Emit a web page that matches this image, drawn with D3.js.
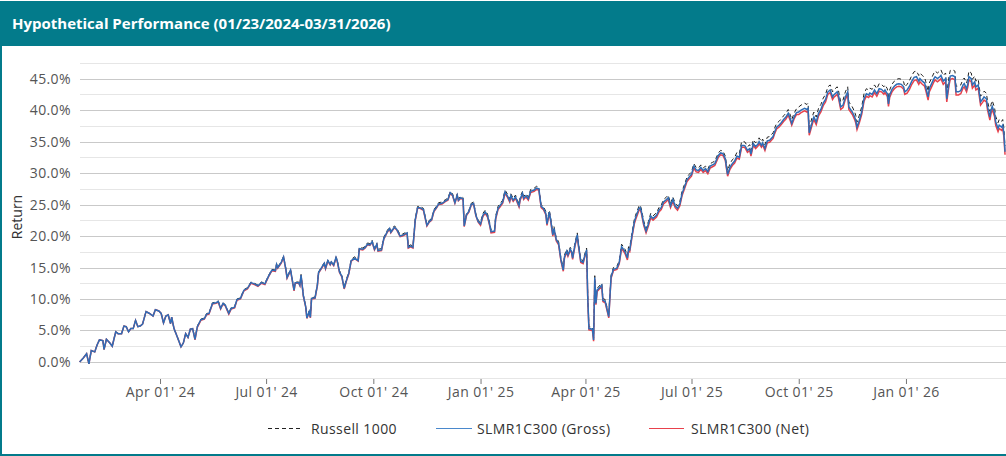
<!DOCTYPE html>
<html>
<head>
<meta charset="utf-8">
<script src="https://cdn.jsdelivr.net/npm/d3@7"></script>
<style>
  body { margin: 0; background: #fff; }
  svg { display: block; font-family: 'Open Sans', 'Noto Sans', sans-serif; }
</style>
</head>
<body>
<script>
// chart data (cumulative return, %)
const title = 'Hypothetical Performance (01/23/2024-03/31/2026)';
const seriesNames = ['Russell 1000', 'SLMR1C300 (Gross)', 'SLMR1C300 (Net)'];
const yTicks = [0, 5, 10, 15, 20, 25, 30, 35, 40, 45];

const dates = [
  '2024-01-23','2024-01-26','2024-01-29','2024-01-31',
  '2024-02-02','2024-02-05','2024-02-07','2024-02-09','2024-02-12','2024-02-13','2024-02-15','2024-02-18','2024-02-20','2024-02-23','2024-02-25','2024-02-28',
  '2024-03-01','2024-03-03','2024-03-05','2024-03-07','2024-03-09','2024-03-11','2024-03-13','2024-03-15','2024-03-17','2024-03-20','2024-03-23','2024-03-26','2024-03-28','2024-03-31',
  '2024-04-02','2024-04-04','2024-04-06','2024-04-08','2024-04-10','2024-04-11','2024-04-13','2024-04-16','2024-04-19','2024-04-21','2024-04-23','2024-04-25','2024-04-27','2024-04-29',
  '2024-05-01','2024-05-03','2024-05-06','2024-05-09','2024-05-11','2024-05-13','2024-05-16','2024-05-19','2024-05-21','2024-05-23','2024-05-25','2024-05-27','2024-05-30',
  '2024-06-01','2024-06-04','2024-06-06','2024-06-09','2024-06-12','2024-06-15','2024-06-18','2024-06-21','2024-06-24','2024-06-27','2024-06-30',
  '2024-07-03','2024-07-06','2024-07-09','2024-07-10','2024-07-11','2024-07-14','2024-07-16','2024-07-18','2024-07-19','2024-07-22','2024-07-25','2024-07-26','2024-07-29','2024-07-30','2024-07-31',
  '2024-08-02','2024-08-04','2024-08-05','2024-08-07','2024-08-08','2024-08-09','2024-08-12','2024-08-14','2024-08-15','2024-08-18','2024-08-20','2024-08-21','2024-08-23','2024-08-25','2024-08-26','2024-08-28','2024-08-30','2024-08-31',
  '2024-09-02','2024-09-04','2024-09-06','2024-09-08','2024-09-10','2024-09-12','2024-09-15','2024-09-18','2024-09-19','2024-09-22','2024-09-24','2024-09-26','2024-09-28','2024-09-30',
  '2024-10-02','2024-10-04','2024-10-05','2024-10-08','2024-10-10','2024-10-13','2024-10-15','2024-10-16','2024-10-19','2024-10-21','2024-10-24','2024-10-26','2024-10-30','2024-10-31',
  '2024-11-02','2024-11-04','2024-11-06','2024-11-08','2024-11-10','2024-11-13','2024-11-16','2024-11-18','2024-11-20','2024-11-22','2024-11-24','2024-11-26','2024-11-29',
  '2024-12-02','2024-12-04','2024-12-06','2024-12-08','2024-12-10','2024-12-12','2024-12-13','2024-12-15','2024-12-17','2024-12-18','2024-12-20','2024-12-22','2024-12-24','2024-12-26','2024-12-28','2024-12-30',
  '2025-01-01','2025-01-03','2025-01-05','2025-01-07','2025-01-09','2025-01-10','2025-01-13','2025-01-14','2025-01-16','2025-01-18','2025-01-20','2025-01-22','2025-01-24','2025-01-26','2025-01-27','2025-01-29','2025-01-31',
  '2025-02-03','2025-02-04','2025-02-06','2025-02-07','2025-02-09','2025-02-11','2025-02-13','2025-02-16','2025-02-18','2025-02-20','2025-02-22','2025-02-24','2025-02-26','2025-02-27',
  '2025-03-01','2025-03-02','2025-03-04','2025-03-05','2025-03-07','2025-03-09','2025-03-11','2025-03-13','2025-03-14','2025-03-16','2025-03-17','2025-03-19','2025-03-20','2025-03-21','2025-03-23','2025-03-25','2025-03-26','2025-03-28','2025-03-30','2025-03-31',
  '2025-04-02','2025-04-03','2025-04-04','2025-04-07','2025-04-08','2025-04-09','2025-04-10','2025-04-11','2025-04-15','2025-04-16','2025-04-18','2025-04-21','2025-04-22','2025-04-23','2025-04-25','2025-04-28','2025-04-30',
  '2025-05-02','2025-05-04','2025-05-05','2025-05-07','2025-05-08','2025-05-09','2025-05-11','2025-05-13','2025-05-14','2025-05-17','2025-05-18','2025-05-19','2025-05-21','2025-05-23','2025-05-25','2025-05-27','2025-05-29',
  '2025-06-01','2025-06-03','2025-06-05','2025-06-07','2025-06-09','2025-06-11','2025-06-13','2025-06-15','2025-06-17','2025-06-19','2025-06-21','2025-06-23','2025-06-25','2025-06-27','2025-06-29',
  '2025-07-01','2025-07-03','2025-07-05','2025-07-07','2025-07-09','2025-07-11','2025-07-13','2025-07-15','2025-07-17','2025-07-19','2025-07-21','2025-07-24','2025-07-26','2025-07-28','2025-07-30','2025-07-31',
  '2025-08-01','2025-08-03','2025-08-05','2025-08-07','2025-08-09','2025-08-11','2025-08-13','2025-08-15','2025-08-16','2025-08-18','2025-08-20','2025-08-21','2025-08-23','2025-08-25','2025-08-27','2025-08-28','2025-08-30','2025-08-31',
  '2025-09-02','2025-09-04','2025-09-06','2025-09-09','2025-09-10','2025-09-12','2025-09-14','2025-09-16','2025-09-18','2025-09-20','2025-09-22','2025-09-24','2025-09-25','2025-09-27','2025-09-29',
  '2025-10-01','2025-10-03','2025-10-06','2025-10-08','2025-10-09','2025-10-10','2025-10-13','2025-10-14','2025-10-16','2025-10-18','2025-10-20','2025-10-22','2025-10-24','2025-10-26','2025-10-28','2025-10-30','2025-10-31',
  '2025-11-03','2025-11-04','2025-11-06','2025-11-08','2025-11-10','2025-11-12','2025-11-13','2025-11-16','2025-11-18','2025-11-19','2025-11-20','2025-11-22','2025-11-24','2025-11-26','2025-11-28','2025-11-30',
  '2025-12-01','2025-12-03','2025-12-05','2025-12-07','2025-12-09','2025-12-11','2025-12-13','2025-12-14','2025-12-16','2025-12-17','2025-12-18','2025-12-20','2025-12-22','2025-12-24','2025-12-26','2025-12-28','2025-12-30','2025-12-31',
  '2026-01-02','2026-01-04','2026-01-06','2026-01-08','2026-01-10','2026-01-12','2026-01-13','2026-01-15','2026-01-17','2026-01-18','2026-01-20','2026-01-21','2026-01-23','2026-01-25','2026-01-26','2026-01-28','2026-01-30','2026-01-31',
  '2026-02-02','2026-02-04','2026-02-05','2026-02-07','2026-02-08','2026-02-10','2026-02-12','2026-02-13','2026-02-15','2026-02-17','2026-02-19','2026-02-20','2026-02-22','2026-02-23','2026-02-24','2026-02-26','2026-02-27',
  '2026-03-01','2026-03-02','2026-03-04','2026-03-05','2026-03-06','2026-03-08','2026-03-09','2026-03-11','2026-03-12','2026-03-14','2026-03-15','2026-03-16','2026-03-18','2026-03-19','2026-03-21','2026-03-22','2026-03-24','2026-03-25','2026-03-26','2026-03-27'
];

const gross = [
  0.0,0.6,1.3,-0.3,
  1.8,1.6,2.7,3.5,3.4,2.0,3.6,3.0,2.5,4.8,4.5,4.5,
  5.7,5.6,4.8,5.3,5.3,6.6,5.6,5.7,6.0,8.0,7.7,7.3,8.3,8.1,
  7.7,6.2,7.3,7.5,6.1,7.1,5.3,3.9,2.4,3.0,4.5,3.9,5.2,5.3,
  3.6,5.6,6.7,6.9,7.6,7.7,9.3,9.4,9.6,8.5,9.3,9.0,7.7,
  8.5,8.7,9.9,10.1,11.4,11.7,12.6,12.4,12.1,12.6,12.4,
  13.6,14.6,14.5,15.5,15.0,15.8,16.7,14.7,13.4,14.6,11.4,12.6,12.6,12.2,13.8,
  10.5,8.8,7.0,8.0,7.1,10.1,10.2,12.2,14.2,15.1,15.7,14.9,16.1,15.5,15.9,15.4,16.6,16.1,
  14.3,13.6,11.7,13.0,14.1,16.1,16.5,16.1,18.0,17.9,18.2,18.7,18.6,19.1,
  17.9,18.7,17.7,17.8,19.6,20.7,21.2,20.6,21.4,21.1,20.0,20.1,20.5,18.2,
  18.4,18.2,22.6,24.5,24.5,24.2,21.7,22.3,22.6,24.0,24.5,25.1,25.2,
  25.6,25.8,26.9,26.5,25.3,26.5,25.7,26.1,25.9,21.6,23.4,23.9,25.0,25.2,23.3,22.3,
  21.9,23.3,23.8,23.2,21.7,20.7,20.8,22.9,24.4,24.9,25.4,27.0,26.4,25.6,26.4,25.7,26.2,
  24.8,25.9,26.8,26.0,26.4,25.9,27.1,27.3,27.6,27.5,24.7,24.4,23.6,21.9,
  23.8,22.8,20.2,21.2,19.4,18.8,16.2,14.6,16.7,17.6,17.0,17.9,17.6,16.5,18.6,20.2,18.6,16.0,15.8,16.6,
  17.8,10.1,5.3,5.2,3.5,13.4,9.3,11.4,12.2,9.8,9.6,7.2,10.4,13.5,14.7,14.9,15.8,
  18.3,17.8,17.5,16.5,17.9,17.8,20.2,22.3,22.9,24.4,24.5,23.9,22.0,20.8,21.9,23.2,22.8,
  23.3,24.1,24.5,25.4,25.7,26.1,24.8,25.8,24.8,24.4,25.1,26.8,27.8,28.9,29.4,
  29.8,31.1,30.5,30.4,30.9,30.4,30.7,30.2,31.1,31.3,31.5,32.8,33.2,33.1,32.3,31.0,
  29.8,30.9,31.5,31.9,32.7,32.5,34.4,34.4,34.3,33.6,33.9,33.0,34.7,34.2,34.6,35.0,34.4,34.8,
  33.9,35.1,35.2,35.8,36.4,37.3,37.6,38.0,38.5,38.9,39.5,38.5,37.9,38.9,39.6,
  39.7,40.0,40.3,40.1,40.3,36.4,38.4,38.9,38.1,39.5,40.1,41.1,41.7,42.9,43.2,42.1,42.4,
  42.9,42.4,40.5,40.8,42.1,42.9,40.5,39.7,38.9,38.3,37.3,38.4,39.7,41.8,42.6,42.4,
  42.7,42.5,43.2,42.6,43.4,43.3,42.9,43.2,42.6,41.0,42.4,43.3,43.8,44.1,44.2,44.1,43.7,42.9,
  43.2,43.8,44.6,45.2,45.3,44.6,45.0,44.6,44.3,43.6,42.1,43.4,44.2,45.0,45.3,45.0,45.3,45.5,
  44.6,45.0,41.8,44.5,45.4,45.5,45.3,42.9,42.9,43.1,44.0,44.2,43.4,44.1,45.3,45.0,44.0,
  44.5,43.7,44.0,42.6,41.3,41.8,42.1,41.8,40.5,38.9,40.0,40.6,39.5,38.1,37.1,37.6,37.3,37.6,36.3,33.4
];

const russell = [
  0.0,0.6,1.3,-0.3,
  1.8,1.6,2.7,3.5,3.4,2.0,3.6,3.0,2.5,4.8,4.5,4.5,
  5.7,5.6,4.8,5.3,5.3,6.6,5.6,5.7,6.0,8.0,7.7,7.3,8.3,8.1,
  7.7,6.2,7.3,7.5,6.1,7.1,5.3,3.9,2.4,3.0,4.5,3.9,5.2,5.3,
  3.7,5.7,6.8,7.0,7.7,7.8,9.4,9.5,9.7,8.6,9.4,9.1,7.8,
  8.6,8.8,10.0,10.2,11.5,11.8,12.7,12.5,12.2,12.7,12.5,
  13.7,14.7,14.6,15.6,15.1,15.9,16.8,14.8,13.5,14.7,11.5,12.7,12.7,12.3,13.9,
  10.6,8.9,7.1,8.1,7.2,10.2,10.3,12.3,14.3,15.2,15.8,15.0,16.2,15.6,16.0,15.5,16.7,16.2,
  14.5,13.8,11.9,13.2,14.3,16.3,16.7,16.3,18.2,18.1,18.4,18.9,18.8,19.3,
  18.1,18.9,17.9,18.0,19.8,20.9,21.4,20.8,21.6,21.3,20.2,20.3,20.7,18.4,
  18.6,18.4,22.8,24.7,24.7,24.4,21.9,22.5,22.8,24.2,24.7,25.3,25.4,
  25.8,26.0,27.1,26.7,25.5,26.7,25.9,26.3,26.1,21.8,23.6,24.1,25.2,25.4,23.5,22.5,
  22.2,23.6,24.1,23.5,22.0,21.0,21.1,23.2,24.7,25.2,25.7,27.3,26.7,25.9,26.7,26.0,26.5,
  25.1,26.2,27.1,26.3,26.7,26.2,27.4,27.6,27.9,27.8,25.0,24.7,23.9,22.2,
  24.1,23.1,20.5,21.5,19.7,19.1,16.5,14.9,17.0,17.9,17.3,18.2,17.9,16.8,18.9,20.5,18.9,16.3,16.1,16.9,
  18.1,10.4,5.6,5.5,3.8,13.7,9.6,11.7,12.5,10.1,9.9,7.5,10.7,13.8,15.0,15.2,16.1,
  18.7,18.2,17.9,16.9,18.3,18.2,20.6,22.7,23.3,24.8,24.9,24.3,22.4,21.2,22.3,23.6,23.2,
  23.7,24.5,24.9,25.8,26.1,26.5,25.2,26.2,25.2,24.8,25.5,27.2,28.2,29.3,29.8,
  30.2,31.5,30.9,30.8,31.3,30.8,31.1,30.6,31.5,31.7,31.9,33.2,33.6,33.5,32.7,31.4,
  30.4,31.5,32.1,32.5,33.3,33.1,35.0,35.0,34.9,34.2,34.5,33.6,35.3,34.8,35.2,35.6,35.0,35.4,
  34.5,35.7,35.8,36.4,37.0,37.9,38.2,38.6,39.1,39.5,40.1,39.1,38.5,39.5,40.2,
  40.5,40.8,41.1,40.9,41.1,37.2,39.2,39.7,38.9,40.3,40.9,41.9,42.5,43.7,44.0,42.9,43.2,
  43.7,43.2,41.3,41.6,42.9,43.7,41.3,40.5,39.7,39.1,38.1,39.2,40.5,42.6,43.4,43.2,
  43.5,43.3,44.0,43.4,44.2,44.1,43.7,44.0,43.4,41.8,43.2,44.1,44.6,44.9,45.0,44.9,44.5,43.7,
  44.1,44.7,45.5,46.1,46.2,45.5,45.9,45.5,45.2,44.5,43.0,44.3,45.1,45.9,46.2,45.9,46.2,46.4,
  45.5,45.9,42.7,45.4,46.3,46.4,46.2,43.8,43.8,44.0,44.9,45.1,44.3,45.0,46.2,45.9,44.9,
  45.4,44.6,44.9,43.5,42.2,42.7,43.0,42.7,41.4,39.8,40.9,41.5,40.4,39.0,38.0,38.5,38.2,38.5,37.2,34.3
];

const net = [
  0.0,0.6,1.3,-0.3,
  1.8,1.6,2.7,3.5,3.4,2.0,3.6,3.0,2.5,4.8,4.5,4.5,
  5.7,5.6,4.8,5.3,5.3,6.6,5.6,5.7,6.0,8.0,7.7,7.3,8.3,8.1,
  7.7,6.2,7.3,7.5,6.1,7.1,5.3,3.9,2.4,3.0,4.5,3.9,5.2,5.3,
  3.5,5.5,6.6,6.8,7.5,7.6,9.2,9.3,9.5,8.4,9.2,8.9,7.6,
  8.4,8.6,9.8,10.0,11.3,11.6,12.5,12.3,12.0,12.5,12.3,
  13.5,14.5,14.4,15.4,14.9,15.7,16.6,14.6,13.3,14.5,11.3,12.5,12.5,12.1,13.7,
  10.4,8.7,6.9,7.9,7.0,10.0,10.1,12.1,14.1,15.0,15.6,14.8,16.0,15.4,15.8,15.3,16.5,16.0,
  14.2,13.5,11.6,12.9,14.0,16.0,16.4,16.0,17.9,17.8,18.1,18.6,18.5,19.0,
  17.8,18.6,17.6,17.7,19.5,20.6,21.1,20.5,21.3,21.0,19.9,20.0,20.4,18.1,
  18.3,18.1,22.5,24.4,24.4,24.1,21.6,22.2,22.5,23.9,24.4,25.0,25.1,
  25.5,25.7,26.8,26.4,25.2,26.4,25.6,26.0,25.8,21.5,23.3,23.8,24.9,25.1,23.2,22.2,
  21.7,23.1,23.6,23.0,21.5,20.5,20.6,22.7,24.2,24.7,25.2,26.8,26.2,25.4,26.2,25.5,26.0,
  24.6,25.7,26.6,25.8,26.2,25.7,26.9,27.1,27.4,27.3,24.5,24.2,23.4,21.7,
  23.6,22.6,20.0,21.0,19.2,18.6,16.0,14.4,16.5,17.4,16.8,17.7,17.4,16.3,18.4,20.0,18.4,15.8,15.6,16.4,
  17.6,9.9,5.1,5.0,3.3,13.2,9.1,11.2,12.0,9.6,9.4,7.0,10.2,13.3,14.5,14.7,15.6,
  18.0,17.5,17.2,16.2,17.6,17.5,19.9,22.0,22.6,24.1,24.2,23.6,21.7,20.5,21.6,22.9,22.5,
  23.0,23.8,24.2,25.1,25.4,25.8,24.5,25.5,24.5,24.1,24.8,26.5,27.5,28.6,29.1,
  29.5,30.8,30.2,30.1,30.6,30.1,30.4,29.9,30.8,31.0,31.2,32.5,32.9,32.8,32.0,30.7,
  29.5,30.6,31.2,31.6,32.4,32.2,34.1,34.1,34.0,33.3,33.6,32.7,34.4,33.9,34.3,34.7,34.1,34.5,
  33.6,34.8,34.9,35.5,36.1,37.0,37.3,37.7,38.2,38.6,39.2,38.2,37.6,38.6,39.3,
  39.3,39.6,39.9,39.7,39.9,36.0,38.0,38.5,37.7,39.1,39.7,40.7,41.3,42.5,42.8,41.7,42.0,
  42.5,42.0,40.1,40.4,41.7,42.5,40.1,39.3,38.5,37.9,36.9,38.0,39.3,41.4,42.2,42.0,
  42.3,42.1,42.8,42.2,43.0,42.9,42.5,42.8,42.2,40.6,42.0,42.9,43.4,43.7,43.8,43.7,43.3,42.5,
  42.7,43.3,44.1,44.7,44.8,44.1,44.5,44.1,43.8,43.1,41.6,42.9,43.7,44.5,44.8,44.5,44.8,45.0,
  44.1,44.5,41.3,44.0,44.9,45.0,44.8,42.4,42.4,42.6,43.5,43.7,42.9,43.6,44.8,44.5,43.5,
  44.0,43.2,43.5,42.1,40.8,41.3,41.6,41.3,40.0,38.4,39.5,40.1,39.0,37.6,36.6,37.1,36.8,37.1,35.8,32.9
];

const width = 1006;
const height = 456;
const teal = '#037b8b';
const labelFont = '14px';
const labelSpacing = '0.4px';

const parseTime = d3.timeParse('%Y-%m-%d');
const rows = dates.map((s, i) => ({
  date: parseTime(s),
  russell: russell[i],
  gross: gross[i],
  net: net[i],
}));

const svg = d3.select('body')
  .append('svg')
  .attr('width', width)
  .attr('height', height);

// frame + title bar
svg.append('rect')
  .attr('x', 1).attr('y', 2)
  .attr('width', width + 10).attr('height', height - 3)
  .attr('fill', 'none')
  .attr('stroke', teal)
  .attr('stroke-width', 2);

svg.append('rect')
  .attr('x', 0).attr('y', 2)
  .attr('width', width + 10).attr('height', 44)
  .attr('fill', teal);

svg.append('text')
  .attr('x', 12)
  .attr('y', 29)
  .attr('fill', '#fff')
  .style('font-size', '15px')
  .style('font-weight', 700)
  .text(title);

// scales
const x = d3.scaleTime()
  .domain([parseTime('2024-01-23'), parseTime('2026-03-31')])
  .range([79.6, 1009.7]);
const y = d3.scaleLinear()
  .domain([-2.5, 47.5])
  .range([377.7, 62.9]);

// grid lines, every 2.5%
const gridVals = d3.range(-2.5, 47.6, 2.5);
svg.append('g')
  .selectAll('line')
  .data(gridVals)
  .enter()
  .append('line')
  .attr('x1', 80)
  .attr('x2', width)
  .attr('y1', d => Math.round(y(d)) + 0.5)
  .attr('y2', d => Math.round(y(d)) + 0.5)
  .attr('stroke', d => (d >= 0 && d % 5 === 0 ? '#c9c9c9' : '#e6e6e6'))
  .attr('stroke-width', 1);

// y labels
svg.append('g')
  .selectAll('text')
  .data(yTicks)
  .enter()
  .append('text')
  .attr('x', 71)
  .attr('y', d => y(d) + 5)
  .attr('text-anchor', 'end')
  .attr('fill', '#555')
  .style('font-size', labelFont)
  .style('letter-spacing', labelSpacing)
  .text(d => d3.format('.1f')(d) + '%');

svg.append('text')
  .attr('transform', 'translate(21.5,217) rotate(-90)')
  .attr('text-anchor', 'middle')
  .attr('fill', '#333')
  .style('font-size', labelFont)
  .text('Return');

// x axis
const xAxis = d3.axisBottom(x)
  .ticks(d3.timeMonth.every(3))
  .tickFormat(d3.timeFormat("%b %d' %y"))
  .tickSize(5)
  .tickPadding(3);

const gx = svg.append('g')
  .attr('transform', 'translate(0,379)')
  .call(xAxis);
gx.select('.domain').remove();
gx.selectAll('.tick line').attr('stroke', '#777');
gx.selectAll('.tick text')
  .attr('fill', '#555')
  .style('font-size', labelFont)
  .style('letter-spacing', labelSpacing)
  .style('font-family', "'Open Sans', 'Noto Sans', sans-serif");

// lines
svg.append('clipPath')
  .attr('id', 'plot-clip')
  .append('rect')
  .attr('x', 78).attr('y', 40)
  .attr('width', width - 78).attr('height', 345);

const plot = svg.append('g').attr('clip-path', 'url(#plot-clip)');

const line = key => d3.line()
  .x(d => x(d.date))
  .y(d => y(d[key]));

plot.append('path')
  .datum(rows)
  .attr('fill', 'none')
  .attr('stroke', '#222')
  .attr('stroke-width', 1)
  .attr('stroke-dasharray', '4,3')
  .attr('d', line('russell'));

plot.append('path')
  .datum(rows)
  .attr('fill', 'none')
  .attr('stroke', '#e8414c')
  .attr('stroke-width', 1.5)
  .attr('d', line('net'));

plot.append('path')
  .datum(rows)
  .attr('fill', 'none')
  .attr('stroke', '#2f6db6')
  .attr('stroke-width', 1.5)
  .attr('d', line('gross'));

// legend
const legendItems = [
  { name: seriesNames[0], color: '#222', dash: '4,3', x1: 268, x2: 302, tx: 311 },
  { name: seriesNames[1], color: '#4a88cc', dash: null, x1: 436, x2: 472, tx: 477 },
  { name: seriesNames[2], color: '#e8414c', dash: null, x1: 649, x2: 684, tx: 691 },
];

const legend = svg.append('g')
  .selectAll('g')
  .data(legendItems)
  .enter()
  .append('g');

legend.append('line')
  .attr('x1', d => d.x1)
  .attr('x2', d => d.x2)
  .attr('y1', 428.5)
  .attr('y2', 428.5)
  .attr('stroke', d => d.color)
  .attr('stroke-width', 1)
  .attr('stroke-dasharray', d => d.dash);

legend.append('text')
  .attr('x', d => d.tx)
  .attr('y', 433.5)
  .attr('fill', '#333')
  .style('font-size', labelFont)
  .style('letter-spacing', labelSpacing)
  .text(d => d.name);
</script>
</body>
</html>
